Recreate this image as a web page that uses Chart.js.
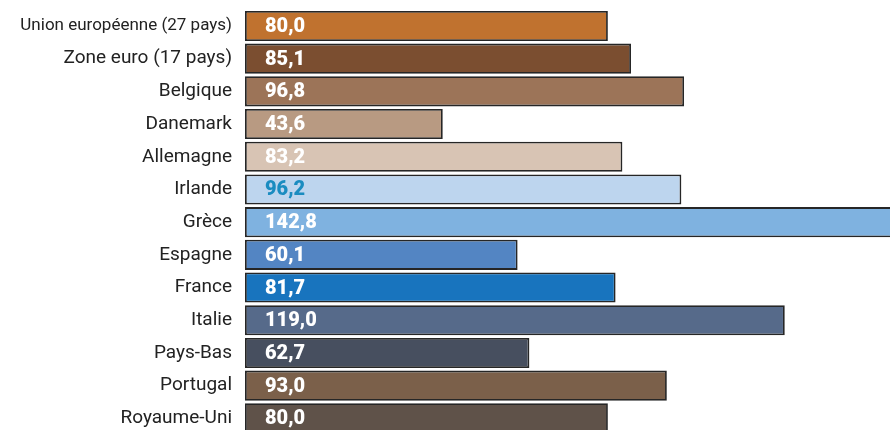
<!DOCTYPE html>
<html>
<head>
<meta charset="utf-8">
<script src="https://cdn.jsdelivr.net/npm/chart.js@4/dist/chart.umd.min.js"></script>
<style>
  html, body { margin: 0; padding: 0; background: #fff; overflow: hidden; }
  #wrap { width: 890px; height: 430px; overflow: hidden; }
</style>
</head>
<body>
<div id="wrap"><canvas id="chart" width="890" height="440"></canvas></div>
<script>
// ===== Data =====
const countries = ['Union européenne (27 pays)', 'Zone euro (17 pays)', 'Belgique', 'Danemark', 'Allemagne', 'Irlande', 'Grèce', 'Espagne', 'France', 'Italie', 'Pays-Bas', 'Portugal', 'Royaume-Uni'];
const debt = [80.0, 85.1, 96.8, 43.6, 83.2, 96.2, 142.8, 60.1, 81.7, 119.0, 62.7, 93.0, 80.0];
const xMax = 142.2; // Grèce runs slightly past the right edge

const barColors = ['#c0722f', '#7b4e30', '#9c7458', '#b89a82', '#d8c4b4', '#bdd5ee', '#7fb2e0', '#5385c3', '#1874be', '#566a8a', '#474f5f', '#7b604a', '#5f5249'];
const valueColors = ['#fff', '#fff', '#fff', '#fff', '#fff', '#1a8cc0', '#fff', '#fff', '#fff', '#fff', '#fff', '#fff', '#fff'];

// ===== Value labels inside the bars =====
const valueLabels = {
  id: 'valueLabels',
  afterDatasetsDraw(chart) {
    const ctx = chart.ctx;
    const meta = chart.getDatasetMeta(0);
    ctx.save();
    ctx.font = '900 20px Roboto';
    ctx.textBaseline = 'middle';
    ctx.textAlign = 'left';
    meta.data.forEach((bar, i) => {
      ctx.fillStyle = valueColors[i];
      ctx.fillText(debt[i].toFixed(1).replace('.', ','), bar.base + 20, bar.y + 1);
    });
    ctx.restore();
  }
};

new Chart(document.getElementById('chart'), {
  type: 'bar',
  data: {
    labels: countries,
    datasets: [{
      data: debt,
      backgroundColor: barColors,
      borderColor: '#262626',
      borderWidth: 1.8,
      borderSkipped: false,
      barPercentage: 0.92,
      categoryPercentage: 1
    }]
  },
  options: {
    indexAxis: 'y',
    responsive: false,
    animation: false,
    layout: { padding: { top: 9.6, bottom: 5.3, right: 0, left: 0 } },
    plugins: { legend: { display: false }, tooltip: { enabled: false } },
    scales: {
      x: { display: false, min: 0, max: xMax },
      y: {
        afterFit: s => { s.width = 245; s.paddingTop = 0; s.paddingBottom = 0; },
        border: { display: false },
        grid: { display: false, drawTicks: false },
        ticks: {
          padding: 13,
          color: '#222',
          font: ctx => ({ family: 'Roboto', size: ctx.index === 0 ? 17 : 19 })
        }
      }
    }
  },
  plugins: [valueLabels]
});
</script>
</body>
</html>
